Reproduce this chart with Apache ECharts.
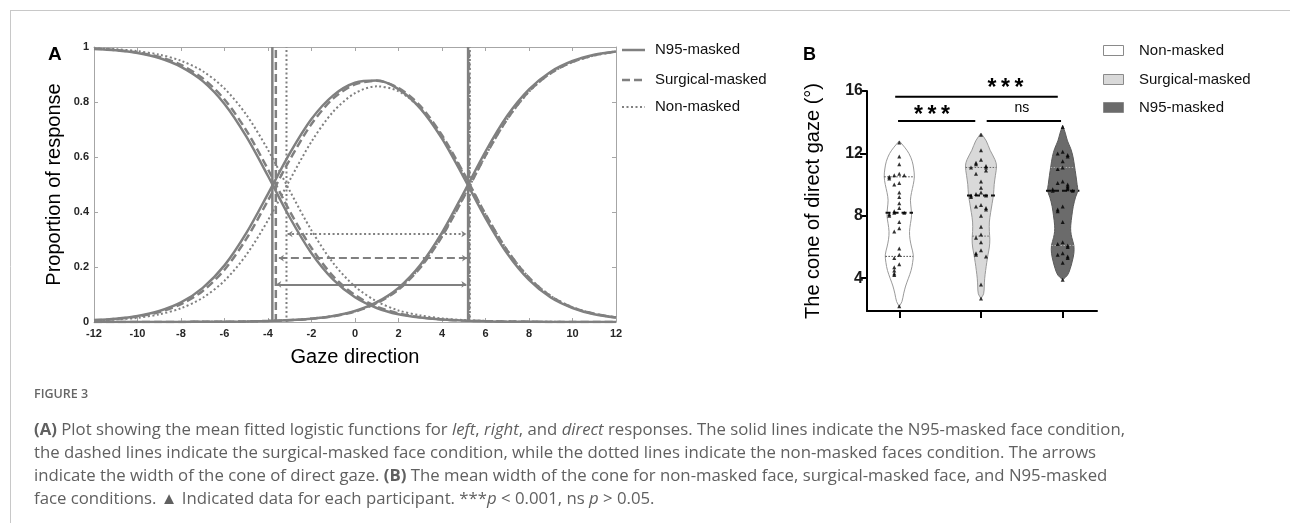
<!DOCTYPE html>
<html>
<head>
<meta charset="utf-8">
<script src="https://cdn.jsdelivr.net/npm/echarts@6/dist/echarts.min.js"></script>
<style>
html,body{margin:0;padding:0;background:#fff;}
#chart{width:1290px;height:523px;}
</style>
</head>
<body>
<div id="chart"></div>
<script>
// ---------- Panel A data ----------
const gaze = [-12,-11,-10,-9,-8,-7,-6,-5,-4,-3,-2,-1,0,1,2,3,4,5,6,7,8,9,10,11,12];
const conditionsA = ['N95-masked', 'Surgical-masked', 'Non-masked'];
const n95Left   = [0.993,0.988,0.978,0.960,0.928,0.876,0.793,0.675,0.531,0.380,0.250,0.154,0.090,0.051,0.028,0.016,0.009,0.005,0.003,0.001,0.001,0,0,0,0];
const n95Right  = [0,0,0,0,0,0.001,0.001,0.002,0.004,0.007,0.012,0.022,0.040,0.072,0.124,0.207,0.325,0.470,0.620,0.750,0.846,0.910,0.949,0.972,0.984];
const n95Direct = [0.007,0.012,0.022,0.040,0.071,0.124,0.206,0.323,0.466,0.613,0.738,0.824,0.870,0.878,0.847,0.777,0.667,0.526,0.378,0.249,0.153,0.089,0.051,0.028,0.016];
const surgLeft   = [0.994,0.989,0.980,0.964,0.935,0.886,0.809,0.697,0.555,0.403,0.269,0.166,0.098,0.056,0.031,0.017,0.009,0.005,0.003,0.002,0.001,0,0,0,0];
const surgRight  = [0,0,0,0,0,0.001,0.001,0.002,0.004,0.006,0.012,0.021,0.038,0.068,0.118,0.197,0.311,0.454,0.605,0.738,0.839,0.905,0.946,0.970,0.984];
const surgDirect = [0.006,0.011,0.020,0.036,0.065,0.113,0.190,0.302,0.442,0.590,0.720,0.813,0.864,0.877,0.851,0.786,0.679,0.541,0.392,0.260,0.161,0.094,0.053,0.030,0.016];
const nonLeft   = [0.995,0.992,0.985,0.972,0.950,0.912,0.849,0.754,0.626,0.477,0.333,0.214,0.129,0.075,0.042,0.024,0.013,0.007,0.004,0.002,0.001,0.001,0,0,0];
const nonRight  = [0,0,0,0,0,0.001,0.001,0.002,0.004,0.007,0.012,0.022,0.039,0.069,0.119,0.199,0.313,0.455,0.604,0.737,0.837,0.904,0.945,0.969,0.983];
const nonDirect = [0.005,0.009,0.015,0.028,0.050,0.088,0.150,0.244,0.370,0.516,0.656,0.765,0.832,0.857,0.839,0.778,0.674,0.538,0.392,0.261,0.162,0.095,0.054,0.030,0.017];
// cone boundaries and arrows (N95, surgical, non-masked)
const coneLeft   = [-3.8, -3.64, -3.15];
const coneRight  = [5.2, 5.24, 5.28];
const arrowY     = [0.137, 0.232, 0.32];
const arrowStart = [-3.62, -3.5, -3.1];
const arrowEnd   = [5.12, 5.15, 5.12];

// ---------- Panel B data ----------
const groupsB = ['Non-masked', 'Surgical-masked', 'N95-masked'];
const nonMaskedCone = [12.7,11.8,11.3,10.7,10.6,10.6,10.5,10.4,10.1,10.0,9.5,9.2,8.8,8.5,8.3,8.2,8.2,8.1,8.0,7.6,7.2,7.0,5.9,5.5,5.3,4.9,4.7,4.5,4.3,4.2,2.2];
const surgicalCone  = [13.2,12.2,11.6,11.4,11.3,11.2,11.1,11.1,10.9,10.7,10.2,9.8,9.5,9.4,9.3,9.3,9.2,8.7,8.6,8.5,8.4,8.0,7.3,6.8,6.6,6.3,5.8,5.6,5.5,5.4,3.6,2.7];
const n95Cone       = [13.7,12.1,12.0,11.9,11.8,11.5,11.1,11.0,10.2,10.1,10.0,9.9,9.8,9.7,9.7,9.6,9.6,8.6,8.4,8.3,7.6,6.3,6.2,6.1,6.0,5.6,5.5,5.4,5.3,5.0,3.9];
const medians   = [8.2, 9.3, 9.6];
const quartile1 = [5.4, 6.7, 6.1];
const quartile3 = [10.5, 11.1, 11.1];
// violin outlines: levels (degrees) and relative half-widths
const nonLevels = [12.8,12.4,12.0,11.5,11.0,10.5,10.0,9.5,9.0,8.5,8.0,7.5,7.0,6.5,6.0,5.5,5.0,4.5,4.0,3.5,3.0,2.5,2.2];
const nonWidths = [0,0.34,0.62,0.83,0.93,0.97,0.90,0.79,0.72,0.76,0.79,0.72,0.66,0.69,0.79,0.90,0.86,0.76,0.59,0.41,0.28,0.17,0];
const surgLevels = [13.3,12.8,12.2,11.6,11.2,10.6,10.0,9.4,8.8,8.2,7.6,7.0,6.5,6.0,5.5,5.0,4.5,4.0,3.5,3.0,2.7];
const surgWidths = [0,0.34,0.59,0.90,1.0,0.93,0.85,0.81,0.72,0.62,0.54,0.54,0.57,0.54,0.45,0.37,0.30,0.24,0.21,0.17,0];
const n95Levels = [13.8,13.3,12.8,12.3,11.8,11.2,10.6,10.0,9.6,9.2,8.6,8.0,7.4,7.0,6.6,6.1,5.6,5.1,4.6,4.2,3.9];
const n95Widths = [0,0.17,0.31,0.52,0.66,0.76,0.85,0.93,0.97,0.83,0.68,0.59,0.52,0.52,0.59,0.72,0.72,0.62,0.48,0.31,0];
const yTicksB = [4, 8, 12, 16];
const sigLabels = ['*\u2009*\u2009*', '*\u2009*\u2009*', 'ns'];

// ---------- build ----------
const FONT = "'Liberation Sans', Arial, sans-serif";
const GRAY = '#808080';
const dashTypes = ['solid', [8, 4], [2, 2.5]];
const lineWidths = [2.5, 2.5, 2];
const curveSets = [[n95Left, n95Right, n95Direct], [surgLeft, surgRight, surgDirect], [nonLeft, nonRight, nonDirect]];

const series = [];
curveSets.forEach((set, c) => {
  set.forEach(arr => {
    series.push({
      type: 'line', name: conditionsA[c], xAxisIndex: 0, yAxisIndex: 0,
      data: gaze.map((g, i) => [g, arr[i]]), smooth: 0.3, showSymbol: false, silent: true,
      lineStyle: {color: GRAY, width: lineWidths[c], type: dashTypes[c]}
    });
  });
  [coneLeft[c], coneRight[c]].forEach(xv => {
    series.push({
      type: 'line', xAxisIndex: 0, yAxisIndex: 0, data: [[xv, 0], [xv, 1]], showSymbol: false, silent: true,
      lineStyle: {color: GRAY, width: lineWidths[c], type: dashTypes[c]}
    });
  });
  series.push({
    type: 'lines', coordinateSystem: 'cartesian2d', xAxisIndex: 0, yAxisIndex: 0, silent: true,
    symbol: ['arrow', 'arrow'], symbolSize: 5,
    data: [{coords: [[arrowStart[c], arrowY[c]], [arrowEnd[c], arrowY[c]]]}],
    lineStyle: {color: GRAY, width: 2, type: dashTypes[c], opacity: 1}
  });
});

// Panel B
const HALF = 0.19; // max half width in x-axis units
const levelsB = [nonLevels, surgLevels, n95Levels];
const widthsB = [nonWidths, surgWidths, n95Widths];
const conesB = [nonMaskedCone, surgicalCone, n95Cone];
const fillsB = ['#ffffff', '#d9d9d9', '#6b6b6b'];
const strokesB = ['#9a9a9a', '#9a9a9a', '#5a5a5a'];
const quartColor = ['#444', '#666', '#b0b0b0'];

function widthAt(g, v) {
  const L = levelsB[g], W = widthsB[g];
  for (let i = 0; i < L.length - 1; i++) {
    if (v <= L[i] && v >= L[i + 1]) {
      const t = (L[i] - v) / (L[i] - L[i + 1]);
      return W[i] + (W[i + 1] - W[i]) * t;
    }
  }
  return 0;
}

groupsB.forEach((gName, g) => {
  const gx = g + 1;
  series.push({
    type: 'custom', name: gName, xAxisIndex: 1, yAxisIndex: 2, silent: true,
    data: [[gx, medians[g]]],
    renderItem: function (params, api) {
      const L = levelsB[g], W = widthsB[g];
      const pts = [];
      for (let i = 0; i < L.length; i++) pts.push(api.coord([gx + W[i] * HALF, L[i]]));
      for (let i = L.length - 1; i >= 0; i--) pts.push(api.coord([gx - W[i] * HALF, L[i]]));
      const children = [{
        type: 'polygon', shape: {points: pts, smooth: 0.35},
        style: {fill: fillsB[g], stroke: strokesB[g], lineWidth: 1}
      }];
      [quartile1[g], quartile3[g]].forEach(q => {
        const w = widthAt(g, q) * HALF;
        const a = api.coord([gx - w, q]), b = api.coord([gx + w, q]);
        children.push({type: 'line', shape: {x1: a[0], y1: a[1], x2: b[0], y2: b[1]},
          style: {stroke: quartColor[g], lineWidth: 1, lineDash: [1.5, 1.5]}});
      });
      const wm = widthAt(g, medians[g]) * HALF + 0.02;
      const a = api.coord([gx - wm, medians[g]]), b = api.coord([gx + wm, medians[g]]);
      children.push({type: 'line', shape: {x1: a[0], y1: a[1], x2: b[0], y2: b[1]},
        style: {stroke: '#111', lineWidth: 2, lineDash: [5, 3]}});
      return {type: 'group', children: children};
    }
  });
  const vals = conesB[g];
  series.push({
    type: 'scatter', xAxisIndex: 1, yAxisIndex: 2, silent: true,
    symbol: 'triangle', symbolSize: [4, 4],
    itemStyle: {color: '#000'},
    data: vals.map((v, i) => {
      let k = 0;
      for (let j = 0; j < i; j++) if (Math.abs(vals[j] - v) < 0.25) k++;
      const dx = k === 0 ? 0 : (k % 2 ? -1 : 1) * Math.ceil(k / 2) * 5;
      return {value: [gx, v], symbolOffset: [dx, 0]};
    })
  });
});

// significance bars
series.push({
  type: 'custom', xAxisIndex: 1, yAxisIndex: 2, silent: true, clip: false,
  data: [[1, 16]],
  renderItem: function (params, api) {
    const bars = [
      {x1: 0.95, x2: 2.94, y: 15.63, ty: 16.13, tx: 2.3, label: sigLabels[0]},
      {x1: 0.985, x2: 1.93, y: 14.08, ty: 14.42, tx: 1.4, label: sigLabels[1]},
      {x1: 2.07, x2: 2.98, y: 14.08, ty: 14.9, tx: 2.5, label: sigLabels[2]}
    ];
    const ch = [];
    bars.forEach(b => {
      const p1 = api.coord([b.x1, b.y]), p2 = api.coord([b.x2, b.y]);
      ch.push({type: 'line', shape: {x1: p1[0], y1: p1[1], x2: p2[0], y2: p2[1]}, style: {stroke: '#000', lineWidth: 2}});
      const t = api.coord([b.tx, b.ty]);
      const star = b.label !== 'ns';
      ch.push({type: 'text', x: t[0], y: t[1], style: {
        text: b.label, align: 'center', verticalAlign: 'middle',
        font: star ? 'bold 23px ' + FONT : '14px ' + FONT, fill: '#000'}});
    });
    return {type: 'group', children: ch};
  }
});

const boxAxis = {lineStyle: {color: '#a6a6a6', width: 1}};
const option = {
  animation: false,
  backgroundColor: '#fff',
  grid: [
    {left: 94, top: 47, width: 522, height: 275},
    {left: 867, top: 91, width: 230, height: 220}
  ],
  xAxis: [
    {type: 'value', gridIndex: 0, min: -12, max: 12, interval: 2, position: 'bottom',
     axisLine: {onZero: false, ...boxAxis}, axisTick: {inside: true, length: 4, lineStyle: {color: '#a6a6a6'}},
     axisLabel: {fontSize: 11, fontWeight: 'bold', color: '#262626', fontFamily: FONT, margin: 6},
     splitLine: {show: false},
     name: 'Gaze direction', nameLocation: 'middle', nameGap: 25,
     nameTextStyle: {fontSize: 20, color: '#000', fontFamily: FONT}},
    {type: 'value', gridIndex: 1, min: 0.605, max: 3.42, position: 'bottom',
     axisLine: {onZero: false, lineStyle: {color: '#000', width: 2}},
     axisTick: {show: true, inside: false, length: 7, customValues: [1, 2, 3], lineStyle: {color: '#000', width: 2}},
     axisLabel: {show: false}, splitLine: {show: false}},
    {type: 'value', gridIndex: 0, min: -12, max: 12, interval: 2, position: 'top',
     axisLine: {onZero: false, ...boxAxis}, axisTick: {inside: true, length: 4, lineStyle: {color: '#a6a6a6'}},
     axisLabel: {show: false}, splitLine: {show: false}}
  ],
  yAxis: [
    {type: 'value', gridIndex: 0, min: 0, max: 1, interval: 0.2, position: 'left',
     axisLine: {show: true, onZero: false, ...boxAxis}, axisTick: {show: true, inside: true, length: 4, lineStyle: {color: '#a6a6a6'}},
     axisLabel: {fontSize: 11, fontWeight: 'bold', color: '#262626', fontFamily: FONT, margin: 5},
     splitLine: {show: false},
     name: 'Proportion of response', nameLocation: 'middle', nameGap: 30,
     nameTextStyle: {fontSize: 20, color: '#000', fontFamily: FONT}},
    {type: 'value', gridIndex: 0, min: 0, max: 1, interval: 0.2, position: 'right',
     axisLine: {show: true, onZero: false, ...boxAxis}, axisTick: {show: true, inside: true, length: 4, lineStyle: {color: '#a6a6a6'}},
     axisLabel: {show: false}, splitLine: {show: false}},
    {type: 'value', gridIndex: 1, min: 1.9, max: 16, position: 'left',
     axisLine: {show: true, onZero: false, lineStyle: {color: '#000', width: 2}},
     axisTick: {show: true, inside: false, length: 7, customValues: yTicksB, lineStyle: {color: '#000', width: 2}},
     axisLabel: {customValues: yTicksB, fontSize: 16, fontWeight: 'bold', color: '#1a1a1a', fontFamily: FONT, margin: 4},
     splitLine: {show: false},
     name: 'The cone of direct gaze (°)', nameLocation: 'middle', nameGap: 44,
     nameTextStyle: {fontSize: 20, color: '#000', fontFamily: FONT}}
  ],
  series: series,
  graphic: []
};

// legends, panel letters, frame, caption
const g = [];
g.push({type: 'line', shape: {x1: 10, y1: 10.5, x2: 1290, y2: 10.5}, style: {stroke: '#c8c8c8', lineWidth: 1}});
g.push({type: 'line', shape: {x1: 10.5, y1: 10, x2: 10.5, y2: 523}, style: {stroke: '#c8c8c8', lineWidth: 1}});
g.push({type: 'text', x: 48, y: 55, style: {text: 'A', font: 'bold 19px ' + FONT, fill: '#000', align: 'left', verticalAlign: 'middle'}});
g.push({type: 'text', x: 803, y: 55, style: {text: 'B', font: 'bold 18px ' + FONT, fill: '#000', align: 'left', verticalAlign: 'middle'}});
const legAY = [50, 80, 107];
conditionsA.forEach((name, c) => {
  g.push({type: 'line', shape: {x1: 622, y1: legAY[c], x2: 645, y2: legAY[c]},
    style: {stroke: GRAY, lineWidth: lineWidths[c], lineDash: c === 0 ? null : dashTypes[c]}});
  g.push({type: 'text', x: 655, y: legAY[c], style: {text: name, font: '15px ' + FONT, fill: '#111', align: 'left', verticalAlign: 'middle'}});
});
const legBY = [51, 80, 108];
groupsB.forEach((name, i) => {
  g.push({type: 'rect', shape: {x: 1103.5, y: legBY[i] - 5.5, width: 20, height: 10},
    style: {fill: fillsB[i], stroke: '#8a8a8a', lineWidth: 1}});
  g.push({type: 'text', x: 1139, y: legBY[i], style: {text: name, font: '15px ' + FONT, fill: '#111', align: 'left', verticalAlign: 'middle'}});
});
const CAP = "'Open Sans', 'Noto Sans', sans-serif";
const CAPSIZE = 16.75;
const CAPCOL = '#606060';
const capRich = {
  b: {fontWeight: 'bold', fontSize: CAPSIZE, fontFamily: CAP, fill: CAPCOL},
  i: {fontStyle: 'italic', fontSize: CAPSIZE, fontFamily: CAP, fill: CAPCOL}
};
g.push({type: 'text', x: 34, y: 394, style: {text: 'FIGURE 3', font: '600 12.5px ' + CAP, fill: '#666', align: 'left', verticalAlign: 'middle'}});
const capLines = [
  '{b|(A)} Plot showing the mean fitted logistic functions for {i|left}, {i|right}, and {i|direct} responses. The solid lines indicate the N95-masked face condition,',
  'the dashed lines indicate the surgical-masked face condition, while the dotted lines indicate the non-masked faces condition. The arrows',
  'indicate the width of the cone of direct gaze. {b|(B)} The mean width of the cone for non-masked face, surgical-masked face, and N95-masked',
  'face conditions. \u25B2 Indicated data for each participant. ***{i|p} < 0.001, ns {i|p} > 0.05.'
];
const capY = [430, 453, 476, 499];
capLines.forEach((t, i) => {
  g.push({type: 'text', x: 34, y: capY[i], style: {text: t, rich: capRich, font: CAPSIZE + 'px ' + CAP, fontSize: CAPSIZE, fontFamily: CAP, fill: CAPCOL, align: 'left', verticalAlign: 'middle'}});
});
option.graphic = g;

const chart = echarts.init(document.getElementById('chart'), null, {renderer: 'canvas'});
chart.setOption(option);
</script>
</body>
</html>
